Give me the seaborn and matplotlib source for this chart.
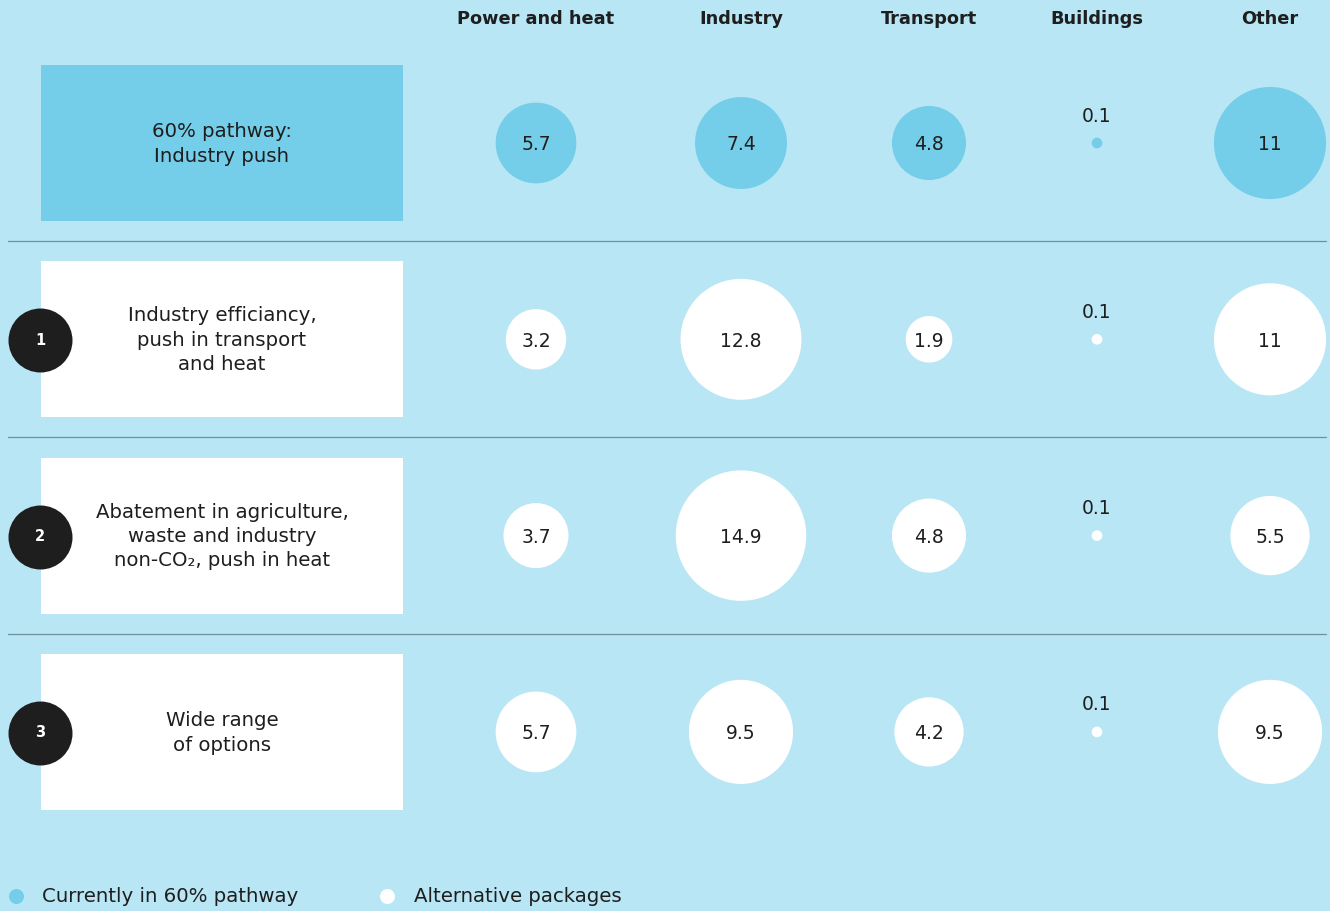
import matplotlib
matplotlib.use("Agg")
import matplotlib.pyplot as plt
from matplotlib.patches import Rectangle
import seaborn as sns
import pandas as pd
import numpy as np

# ---------------- data ----------------
sectors = ["Power and heat", "Industry", "Transport", "Buildings", "Other"]
packages = [
    "60% pathway:\nIndustry push",
    "Industry efficiancy,\npush in transport\nand heat",
    "Abatement in agriculture,\nwaste and industry\nnon-CO₂, push in heat",
    "Wide range\nof options",
]
package_numbers = ["", "1", "2", "3"]
values_60_pathway = [5.7, 7.4, 4.8, 0.1, 11]
values_package_1 = [3.2, 12.8, 1.9, 0.1, 11]
values_package_2 = [3.7, 14.9, 4.8, 0.1, 5.5]
values_package_3 = [5.7, 9.5, 4.2, 0.1, 9.5]
value_labels = [
    ["5.7", "7.4", "4.8", "0.1", "11"],
    ["3.2", "12.8", "1.9", "0.1", "11"],
    ["3.7", "14.9", "4.8", "0.1", "5.5"],
    ["5.7", "9.5", "4.2", "0.1", "9.5"],
]
legend_labels = ["Currently in 60% pathway", "Alternative packages"]

# ---------------- style / layout ----------------
BG = "#b8e6f5"
BLUE = "#74cee9"
DARK = "#1e1e1e"
W, H = 1330, 911
col_x = [536, 741, 929, 1097, 1270]
row_top, row_pitch = 143, 196.3
radius_k = 16.9  # px per sqrt(value)

sns.set_theme(style="white")
plt.rcParams["font.family"] = ["DejaVu Sans"]

fig = plt.figure(figsize=(W / 100, H / 100), dpi=100, facecolor=BG)
ax = fig.add_axes([0, 0, 1, 1])
ax.set_facecolor(BG)

all_vals = [values_60_pathway, values_package_1, values_package_2, values_package_3]
rows = []
for r, vals in enumerate(all_vals):
    for c, v in enumerate(vals):
        rows.append({"sector": sectors[c], "package": r, "value": v,
                     "x": col_x[c], "y": row_top + r * row_pitch,
                     "group": "60" if r == 0 else "alt"})
df = pd.DataFrame(rows)

# px radius -> points^2 area
pt_per_px = 72 / 100
df["area"] = (2 * radius_k * np.sqrt(df["value"]) * pt_per_px) ** 2

# separators
for r in range(1, 4):
    yy = row_top + (r - 0.5) * row_pitch
    ax.plot([8, 1326], [yy, yy], color="#6f8f99", lw=0.9, zorder=1)

# package boxes
for r, lab in enumerate(packages):
    yc = row_top + r * row_pitch
    ax.add_patch(Rectangle((41, yc - 78), 362, 156,
                           facecolor=BLUE if r == 0 else "white",
                           edgecolor="none", zorder=2))
    ax.text(222, yc + 1, lab, ha="center", va="center", fontsize=14.2,
            color=DARK, linespacing=1.36, zorder=3)
    if package_numbers[r]:
        ax.scatter([40], [yc + 1], s=(64 * pt_per_px) ** 2, color=DARK, zorder=4,
                   linewidths=0)
        ax.text(40, yc + 1, package_numbers[r], ha="center", va="center",
                fontsize=10.5, color="white", fontweight="bold", zorder=5)

# bubbles
sns.scatterplot(data=df, x="x", y="y", hue="group", size="area",
                sizes=(df["area"].min(), df["area"].max()),
                size_norm=(df["area"].min(), df["area"].max()),
                palette={"60": BLUE, "alt": "white"}, linewidth=0,
                legend=False, ax=ax, zorder=3)
ax.set_xlim(0, W)
ax.set_ylim(H, 0)
ax.axis("off")

# bubble labels
for r, labs in enumerate(value_labels):
    for c, lab in enumerate(labs):
        v = all_vals[r][c]
        x = col_x[c]
        y = row_top + r * row_pitch
        if v < 1:
            ax.text(x, y - 27, lab, ha="center", va="center", fontsize=13.5,
                    color=DARK, zorder=6)
        else:
            ax.text(x, y + 2, lab, ha="center", va="center", fontsize=13.5,
                    color=DARK, zorder=6)

# headers
for c, s in enumerate(sectors):
    ax.text(col_x[c], 19, s, ha="center", va="center", fontsize=12.8,
            fontweight="bold", color=DARK, zorder=6)

# legend
ax.scatter([16], [896], s=(15 * pt_per_px) ** 2, color=BLUE, linewidths=0, zorder=6)
ax.text(42, 896, legend_labels[0], ha="left", va="center", fontsize=14.2, color=DARK)
ax.scatter([387], [896], s=(15 * pt_per_px) ** 2, color="white", linewidths=0, zorder=6)
ax.text(414, 896, legend_labels[1], ha="left", va="center", fontsize=14.2, color=DARK)

fig.savefig("out.png", dpi=100, facecolor=BG)
